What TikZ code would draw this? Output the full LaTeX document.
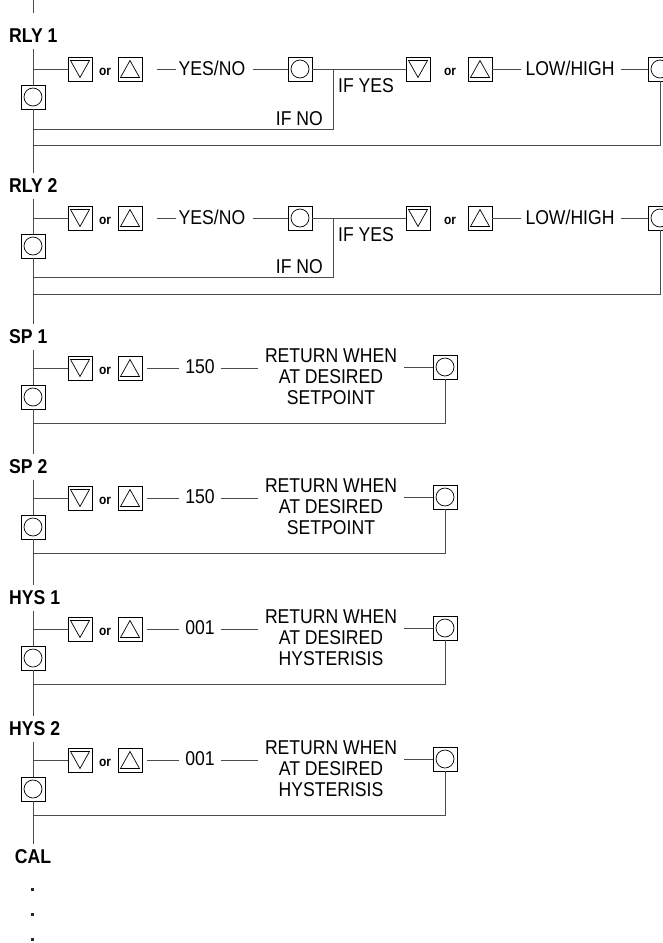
\documentclass[tikz,border=0pt]{standalone}
\usepackage{fontspec}
\setmainfont{Liberation Sans}[FakeStretch=0.88]
\usetikzlibrary{calc}
\tikzset{
  wire/.style={draw=black!70, line width=0.9pt},
  keybox/.style={draw=black, line width=0.8pt, fill=white, minimum size=24pt, inner sep=0pt},
  downkey/.style={keybox, path picture={\draw[line width=0.7pt] ([shift={(-9.5pt,8.5pt)}]path picture bounding box.center) -- ([shift={(9.5pt,8.5pt)}]path picture bounding box.center) -- ([shift={(0pt,-8.5pt)}]path picture bounding box.center) -- cycle;}},
  upkey/.style={keybox, path picture={\draw[line width=0.7pt] ([shift={(-9.5pt,-8.5pt)}]path picture bounding box.center) -- ([shift={(9.5pt,-8.5pt)}]path picture bounding box.center) -- ([shift={(0pt,8.5pt)}]path picture bounding box.center) -- cycle;}},
  enterkey/.style={keybox, path picture={\draw[line width=0.7pt] (path picture bounding box.center) circle[radius=9pt];}},
  orword/.style={font=\fontsize{13.6}{15}\selectfont\bfseries, inner sep=0pt},
  menu/.style={font=\fontsize{20}{21}\selectfont\bfseries, inner xsep=0pt, inner ysep=6pt},
  txt/.style={font=\fontsize{20}{21}\selectfont, inner sep=0pt},
  dot/.style={fill=black!85, minimum size=3pt, inner sep=0pt},
}
\begin{document}
\begin{tikzpicture}[x=1pt, y=-1pt, line join=miter]
  \useasboundingbox (0,0) rectangle (663,943);
  \clip (0,0) rectangle (663,943);
  \coordinate (top) at (33,0);
  % RLY 1
  \node[menu, anchor=west] (rly1) at (9,36) {RLY 1};
  \node[enterkey] (e1) at (33,97) {};
  \node[downkey] (d1) at (80,69) {};
  \node[orword] (o1) at (105,71.5) {or};
  \node[upkey] (u1) at (130,69) {};
  \node[txt, inner xsep=3pt] (yn1) at (212,68) {YES/NO};
  \node[enterkey] (k1) at (300,69) {};
  \node[downkey] (d1b) at (418,69) {};
  \node[orword] (o1b) at (450,71.5) {or};
  \node[upkey] (u1b) at (480,69) {};
  \node[txt, inner xsep=4pt] (lh1) at (570,68) {LOW/HIGH};
  \node[enterkey] (k1b) at (660,69) {};
  \node[txt, anchor=base east] (no1) at (323,125) {IF NO};
  \node[txt, anchor=base west] (yes1) at (338,92) {IF YES};
  \coordinate (j1) at (333,69);
  \coordinate (r1) at (333,129);
  \coordinate (q1) at (660,145);
  \draw[wire, shorten >=10pt] (top) -- (top |- rly1.north);
  \draw[wire] (rly1.south -| e1.north) -- (e1.north);
  \draw[wire] (e1.north |- d1.west) -- (d1.west);
  \draw[wire, shorten <=15pt] (u1.east) -- (yn1.west |- u1.east);
  \draw[wire, shorten <=5pt] (yn1.east |- k1.west) -- (k1.west);
  \draw[wire] (k1.east) -- (d1b.west);
  \draw[wire] (u1b.east) -- (lh1.west |- u1b.east);
  \draw[wire, shorten <=2pt] (lh1.east |- k1b.west) -- (k1b.west);
  \draw[wire] (j1) -- (r1) -- (r1 -| e1.south);
  \draw[wire] (k1b.south) -- (q1) -- (q1 -| e1.south);
  % RLY 2
  \node[menu, anchor=west] (rly2) at (9,186) {RLY 2};
  \node[enterkey] (e2) at (33,246) {};
  \node[downkey] (d2) at (80,218) {};
  \node[orword] (o2) at (105,220.5) {or};
  \node[upkey] (u2) at (130,218) {};
  \node[txt, inner xsep=3pt] (yn2) at (212,217) {YES/NO};
  \node[enterkey] (k2) at (300,218) {};
  \node[downkey] (d2b) at (418,218) {};
  \node[orword] (o2b) at (450,220.5) {or};
  \node[upkey] (u2b) at (480,218) {};
  \node[txt, inner xsep=4pt] (lh2) at (570,217) {LOW/HIGH};
  \node[enterkey] (k2b) at (660,218) {};
  \node[txt, anchor=base east] (no2) at (323,273) {IF NO};
  \node[txt, anchor=base west] (yes2) at (338,241) {IF YES};
  \coordinate (j2) at (333,218);
  \coordinate (r2) at (333,277);
  \coordinate (q2) at (660,294);
  \draw[wire] (e1.south) -- (e1.south |- rly2.north);
  \draw[wire] (rly2.south -| e2.north) -- (e2.north);
  \draw[wire] (e2.north |- d2.west) -- (d2.west);
  \draw[wire, shorten <=15pt] (u2.east) -- (yn2.west |- u2.east);
  \draw[wire, shorten <=5pt] (yn2.east |- k2.west) -- (k2.west);
  \draw[wire] (k2.east) -- (d2b.west);
  \draw[wire] (u2b.east) -- (lh2.west |- u2b.east);
  \draw[wire, shorten <=2pt] (lh2.east |- k2b.west) -- (k2b.west);
  \draw[wire] (j2) -- (r2) -- (r2 -| e2.south);
  \draw[wire] (k2b.south) -- (q2) -- (q2 -| e2.south);
  % Setpoints and hysteresis
  \foreach \i/\y/\lbl/\val/\what in {3/368/SP 1/150/SETPOINT, 4/498/SP 2/150/SETPOINT, 5/629/HYS 1/001/HYSTERISIS, 6/760/HYS 2/001/HYSTERISIS}{
    \pgfmathtruncatemacro\prev{\i-1}
    \node[menu, anchor=west] (lbl\i) at (9,\y-31) {\lbl};
    \node[enterkey] (e\i) at (33,\y+29) {};
    \node[downkey] (d\i) at (80,\y) {};
    \node[orword] (o\i) at (105,\y+2.5) {or};
    \node[upkey] (u\i) at (130,\y) {};
    \node[txt, inner xsep=6pt] (v\i) at (200,\y-1) {\val};
    \node[txt, align=center, inner xsep=7pt] (w\i) at (331,\y+9) {RETURN WHEN\\AT DESIRED\\\what};
    \node[enterkey] (k\i) at (445,\y-1) {};
    \coordinate (r\i) at (445,\y+55);
    \draw[wire] (e\prev.south) -- (e\prev.south |- lbl\i.north);
    \draw[wire] (lbl\i.south -| e\i.north) -- (e\i.north);
    \draw[wire] (e\i.north |- d\i.west) -- (d\i.west);
    \draw[wire, shorten <=5pt] (u\i.east) -- (v\i.west |- u\i.east);
    \draw[wire] (v\i.east |- u\i.east) -- (w\i.west |- u\i.east);
    \draw[wire] (w\i.east |- k\i.west) -- (k\i.west);
    \draw[wire] (k\i.south) -- (r\i) -- (r\i -| e\i.south);
  }
  % CAL
  \node[menu] (cal) at (33,857) {CAL};
  \draw[wire] (e6.south) -- (e6.south |- cal.north);
  \node[dot] (dot1) at (32,889) {};
  \node[dot] (dot2) at (32,914) {};
  \node[dot] (dot3) at (32,939) {};
\end{tikzpicture}
\end{document}
